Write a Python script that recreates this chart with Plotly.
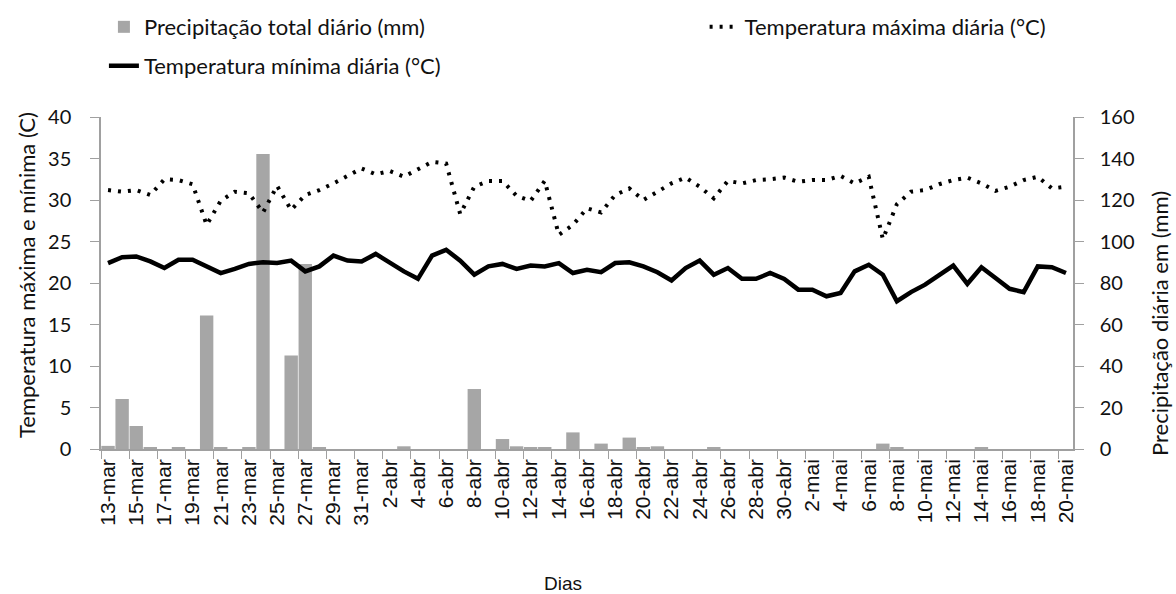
import plotly.graph_objects as go

days = [
    "13-mar", "14-mar", "15-mar", "16-mar", "17-mar", "18-mar", "19-mar", "20-mar", "21-mar", "22-mar",
    "23-mar", "24-mar", "25-mar", "26-mar", "27-mar", "28-mar", "29-mar", "30-mar", "31-mar",
    "1-abr", "2-abr", "3-abr", "4-abr", "5-abr", "6-abr", "7-abr", "8-abr", "9-abr", "10-abr",
    "11-abr", "12-abr", "13-abr", "14-abr", "15-abr", "16-abr", "17-abr", "18-abr", "19-abr", "20-abr",
    "21-abr", "22-abr", "23-abr", "24-abr", "25-abr", "26-abr", "27-abr", "28-abr", "29-abr", "30-abr",
    "1-mai", "2-mai", "3-mai", "4-mai", "5-mai", "6-mai", "7-mai", "8-mai", "9-mai", "10-mai",
    "11-mai", "12-mai", "13-mai", "14-mai", "15-mai", "16-mai", "17-mai", "18-mai", "19-mai", "20-mai",
]

precip_mm = [
    1.5, 24.1, 11.1, 0.5, 0, 0.5, 0, 64.3, 0.5, 0,
    0.5, 142.2, 0, 45.1, 89.2, 0.5, 0, 0, 0,
    0, 0, 1.3, 0, 0, 0, 0, 28.9, 0, 4.8,
    1.3, 0.5, 0.5, 0, 8.0, 0, 2.6, 0, 5.5, 0.5,
    1.3, 0, 0, 0, 0.5, 0, 0, 0, 0, 0,
    0, 0, 0, 0, 0, 0, 2.6, 0.5, 0, 0,
    0, 0, 0, 0.5, 0, 0, 0, 0, 0,
]

tmax_c = [
    31.2, 31.0, 31.2, 30.6, 32.5, 32.4, 31.9, 27.0, 29.9, 31.0,
    30.8, 28.5, 31.7, 28.8, 30.6, 31.2, 32.0, 32.9, 33.8,
    33.1, 33.5, 32.8, 33.7, 34.6, 34.4, 28.3, 31.6, 32.3, 32.3,
    30.5, 29.9, 32.3, 25.8, 27.0, 29.0, 28.5, 30.6, 31.4, 30.0,
    31.0, 32.0, 32.7, 31.6, 30.2, 32.3, 32.0, 32.4, 32.5, 32.7,
    32.2, 32.4, 32.4, 32.9, 32.0, 32.8, 25.3, 29.5, 31.0, 31.2,
    31.9, 32.4, 32.7, 32.0, 31.1, 31.6, 32.4, 32.8, 31.4, 31.6,
]

tmin_c = [
    22.4, 23.1, 23.2, 22.6, 21.8, 22.8, 22.8, 22.0, 21.2, 21.7,
    22.3, 22.5, 22.4, 22.7, 21.4, 22.0, 23.3, 22.7, 22.6,
    23.5, 22.4, 21.4, 20.5, 23.3, 24.0, 22.7, 21.0, 22.0, 22.3,
    21.7, 22.1, 22.0, 22.4, 21.2, 21.6, 21.3, 22.4, 22.5, 22.0,
    21.3, 20.3, 21.8, 22.7, 21.0, 21.8, 20.5, 20.5, 21.2, 20.5,
    19.2, 19.2, 18.4, 18.8, 21.4, 22.2, 21.0, 17.8, 18.9, 19.8,
    21.0, 22.1, 19.9, 21.9, 20.6, 19.3, 18.9, 22.0, 21.9, 21.2,
]

AXIS_GRAY = "#a0a0a0"
LEG_FONT = dict(family="Lato", size=22, color="#111111")
TICK_FONT = dict(family="Lato", size=20, color="#111111")

fig = go.Figure()
fig.add_trace(go.Bar(
    x=days, y=precip_mm, name="Precipitação total diário (mm)",
    marker=dict(color="#a6a6a6", line=dict(width=0)),
    yaxis="y", legend="legend",
))
fig.add_trace(go.Scatter(
    x=days, y=tmax_c, name="Temperatura máxima diária (°C)", mode="lines",
    line=dict(color="black", width=4, dash="3px,7px"),
    yaxis="y2", legend="legend2",
))
fig.add_trace(go.Scatter(
    x=days, y=tmin_c, name="Temperatura mínima diária (°C)", mode="lines",
    line=dict(color="black", width=4.5),
    yaxis="y2", legend="legend3",
))

fig.update_layout(
    width=1176, height=594,
    margin=dict(l=101, r=103, t=117, b=145, autoexpand=False),
    paper_bgcolor="white", plot_bgcolor="white",
    bargap=0.05,
    showlegend=True,
    xaxis=dict(
        type="category", range=[-0.5, len(days) - 0.5],
        tickmode="linear", tick0=0, dtick=2,
        tickson="boundaries", ticks="outside", ticklen=8, tickcolor=AXIS_GRAY,
        tickangle=-90, tickfont=dict(family="Liberation Sans", size=21, color="#111111"),
        showline=True, linecolor=AXIS_GRAY, linewidth=1.5,
        showgrid=False, zeroline=False, fixedrange=True, automargin=False,
    ),
    yaxis=dict(
        side="right", range=[0, 160], dtick=20, tick0=0,
        ticks="outside", ticklen=9, tickcolor=AXIS_GRAY,
        showline=True, linecolor=AXIS_GRAY, linewidth=1.5,
        showgrid=False, zeroline=False, tickfont=TICK_FONT,
        ticklabelstandoff=12, automargin=False,
    ),
    yaxis2=dict(
        overlaying="y", side="left", range=[0, 40], dtick=5, tick0=0,
        ticks="outside", ticklen=9, tickcolor=AXIS_GRAY,
        showline=True, linecolor=AXIS_GRAY, linewidth=1.5,
        showgrid=False, zeroline=False, tickfont=TICK_FONT,
        ticklabelstandoff=15, automargin=False,
    ),
    legend=dict(x=0.003, y=1.271, xanchor="left", yanchor="middle",
                orientation="h", font=LEG_FONT, bgcolor="rgba(0,0,0,0)"),
    legend2=dict(x=0.621, y=1.271, xanchor="left", yanchor="middle",
                 orientation="h", font=LEG_FONT, bgcolor="rgba(0,0,0,0)"),
    legend3=dict(x=0.003, y=1.154, xanchor="left", yanchor="middle",
                 orientation="h", font=LEG_FONT, bgcolor="rgba(0,0,0,0)"),
    annotations=[
        dict(text="Temperatura máxima e mínima (C)", xref="paper", yref="paper",
             x=-0.0772, y=0.524, textangle=-90, showarrow=False,
             xanchor="center", yanchor="middle",
             font=dict(family="Lato", size=22, color="#111111")),
        dict(text="Precipitação diária em (mm)", xref="paper", yref="paper",
             x=1.0885, y=0.3765, textangle=-90, showarrow=False,
             xanchor="center", yanchor="middle",
             font=dict(family="Lato", size=22, color="#111111")),
        dict(text="Dias", xref="paper", yref="paper",
             x=0.475, y=-0.405, showarrow=False,
             xanchor="center", yanchor="middle",
             font=dict(family="Liberation Sans", size=19, color="#111111")),
    ],
)

fig.write_html("out.html", config={"displayModeBar": False},
               post_script="document.body.style.margin='0';")
